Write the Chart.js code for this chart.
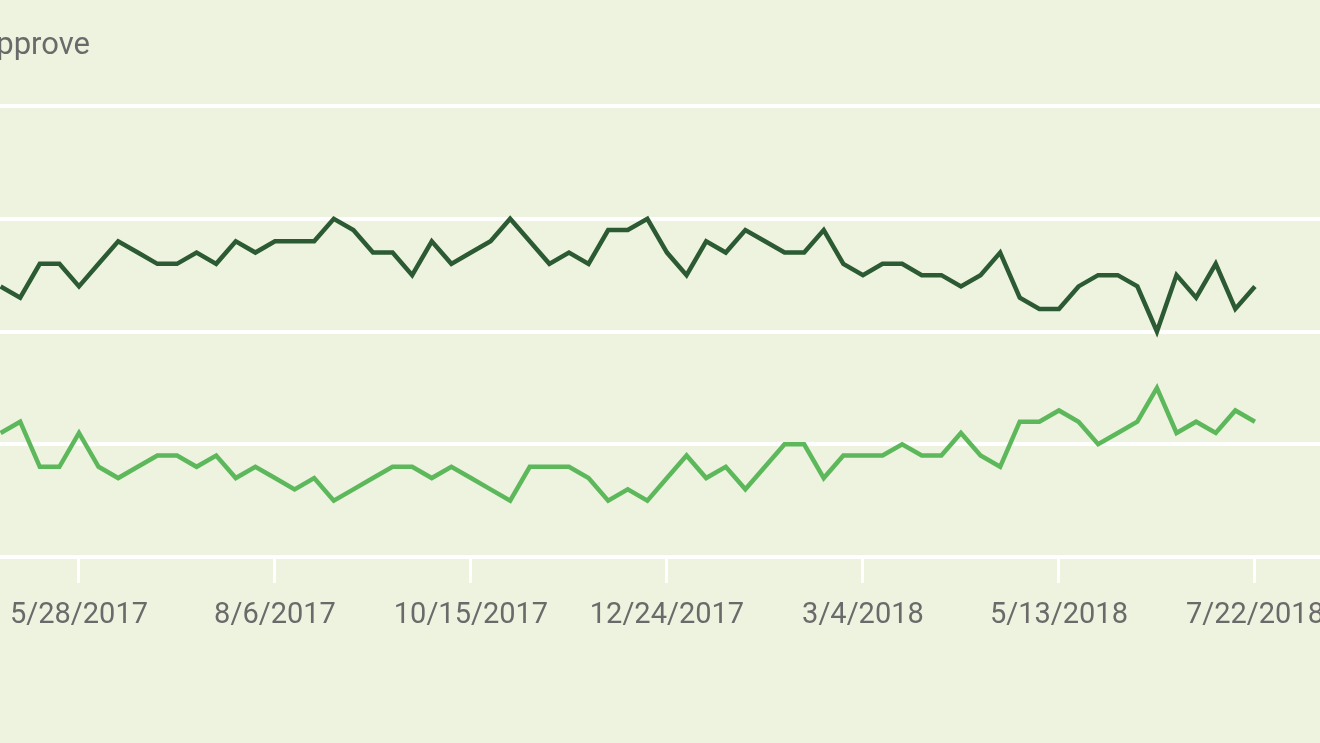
<!DOCTYPE html>
<html>
<head>
<meta charset="utf-8">
<script src="https://cdn.jsdelivr.net/npm/chart.js@4"></script>
<style>
  html, body { margin: 0; padding: 0; background: #edf3df; overflow: hidden; }
  #wrap { width: 1320px; height: 743px; position: relative; }
</style>
</head>
<body>
<div id="wrap"><canvas id="chart" width="1320" height="743"></canvas></div>
<script>
// weekly Gallup readings, week 0 = 4/30/2017 ... week 64 = 7/22/2018
const disapprove = [54, 53, 56, 56, 54, 56, 58, 57, 56, 56, 57, 56, 58, 57, 58, 58, 58, 60,
  59, 57, 57, 55, 58, 56, 57, 58, 60, 58, 56, 57, 56, 59, 59, 60, 57, 55, 58, 57, 59, 58,
  57, 57, 59, 56, 55, 56, 56, 55, 55, 54, 55, 57, 53, 52, 52, 54, 55, 55, 54, 50, 55, 53,
  56, 52, 54];
const approve = [41, 42, 38, 38, 41, 38, 37, 38, 39, 39, 38, 39, 37, 38, 37, 36, 37, 35,
  36, 37, 38, 38, 37, 38, 37, 36, 35, 38, 38, 38, 37, 35, 36, 35, 37, 39, 37, 38, 36, 38,
  40, 40, 37, 39, 39, 39, 40, 39, 39, 41, 39, 38, 42, 42, 43, 42, 40, 41, 42, 45, 41, 42,
  41, 43, 42];
const tickWeeks = [4, 14, 24, 34, 44, 54, 64];
const tickLabels = ['5/28/2017', '8/6/2017', '10/15/2017', '12/24/2017', '3/4/2018', '5/13/2018', '7/22/2018'];
const yTicks = [30, 40, 50, 60, 70];

const TEXT = '#6a6a6a';
const FONT = 'Roboto, "Liberation Sans", sans-serif';

const toPoints = arr => arr.map((v, i) => ({ x: i, y: v }));

// the legend word sits half off the left edge in the original crop
const cornerLabel = {
  id: 'cornerLabel',
  afterDraw(chart) {
    const ctx = chart.ctx;
    ctx.save();
    ctx.font = '31px ' + FONT;
    ctx.fillStyle = TEXT;
    ctx.textAlign = 'right';
    ctx.textBaseline = 'alphabetic';
    ctx.fillText('% Approve', 90, 54);
    ctx.restore();
  }
};

new Chart(document.getElementById('chart'), {
  type: 'line',
  data: {
    datasets: [{
      label: 'Disapprove',
      data: toPoints(disapprove),
      borderColor: '#2b5a33',
      borderWidth: 4.5,
      pointRadius: 0,
      tension: 0,
      fill: false
    }, {
      label: 'Approve',
      data: toPoints(approve),
      borderColor: '#5cb85a',
      borderWidth: 4.5,
      pointRadius: 0,
      tension: 0,
      fill: false
    }]
  },
  options: {
    responsive: false,
    animation: false,
    layout: { padding: { top: 106, left: 0, right: 0, bottom: 0 } },
    scales: {
      x: {
        type: 'linear',
        min: -0.03,
        max: 67.32,
        afterFit: s => { s.height = 186; s.paddingLeft = 0; s.paddingRight = 0; },
        afterBuildTicks: s => { s.ticks = tickWeeks.map(v => ({ value: v })); },
        border: { display: false },
        grid: { drawOnChartArea: false, drawTicks: true, tickLength: 26, color: '#ffffff', lineWidth: 3 },
        ticks: {
          autoSkip: false,
          maxRotation: 0,
          padding: 15,
          color: TEXT,
          font: { family: FONT, size: 29 },
          callback: v => tickLabels[tickWeeks.indexOf(v)] || ''
        }
      },
      y: {
        min: 30,
        max: 70,
        afterFit: s => { s.width = 0; s.paddingTop = 0; s.paddingBottom = 0; },
        afterBuildTicks: s => { s.ticks = yTicks.map(v => ({ value: v })); },
        border: { display: false },
        grid: { color: '#ffffff', lineWidth: 4, drawTicks: false },
        ticks: { display: false }
      }
    },
    plugins: {
      legend: { display: false },
      tooltip: { enabled: false }
    }
  },
  plugins: [cornerLabel]
});
</script>
</body>
</html>
